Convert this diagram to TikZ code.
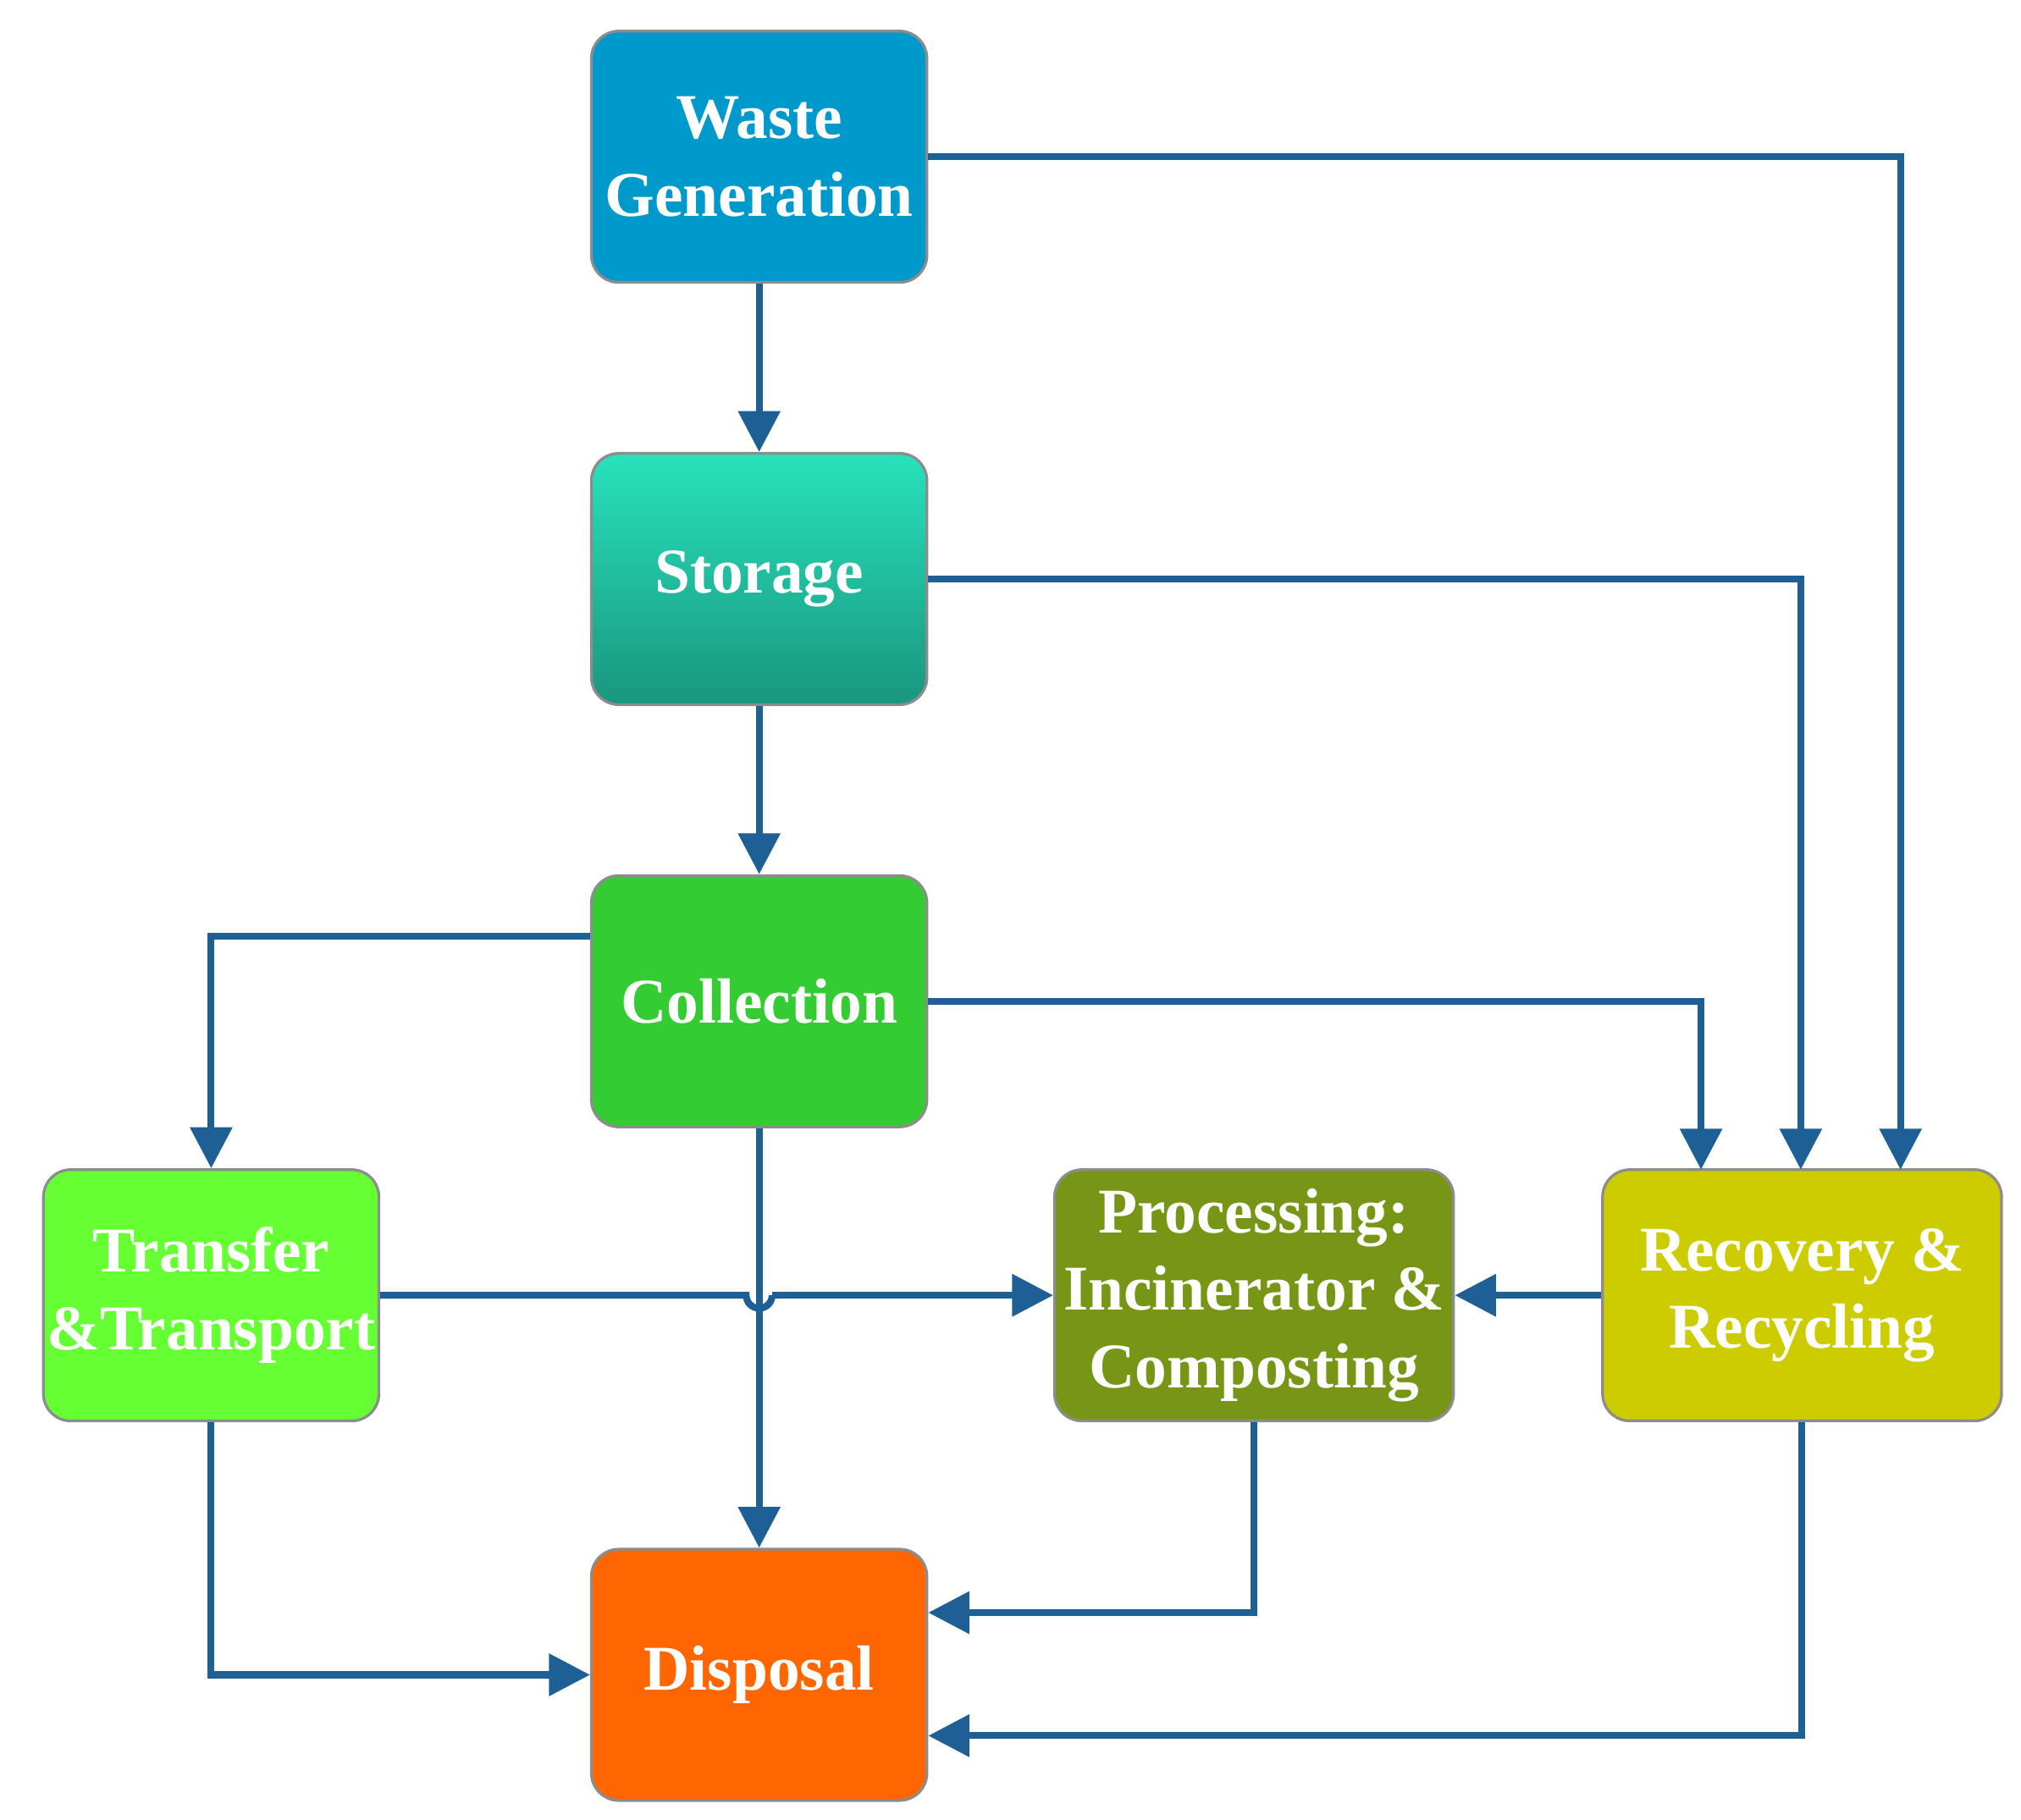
\documentclass[tikz,border=0pt]{standalone}
\usepackage{fontspec}
\setmainfont{Liberation Serif}
\usetikzlibrary{arrows.meta,shadings}
\definecolor{arr}{RGB}{30,95,150}
\definecolor{cwg}{RGB}{0,153,204}
\definecolor{cst1}{RGB}{40,226,188}
\definecolor{cst2}{RGB}{26,150,128}
\definecolor{ccol}{RGB}{51,204,51}
\definecolor{ctr}{RGB}{102,255,51}
\definecolor{cpr}{RGB}{119,150,22}
\definecolor{crr}{RGB}{204,204,0}
\definecolor{cdi}{RGB}{255,102,0}
\begin{document}
\begin{tikzpicture}[x=0.01cm,y=-0.01cm,
  box/.style={draw=black!45,line width=0.6pt,rounded corners=6pt,minimum width=259*0.01cm,minimum height=194*0.01cm,
    text=white,font=\fontsize{14}{17}\selectfont\bfseries,align=center,inner sep=0pt},
  wide/.style={minimum width=308*0.01cm},
  ar/.style={draw=arr,line width=1.5pt,-{Triangle[length=9pt,width=9pt]}},
  ln/.style={draw=arr,line width=1.5pt}]
\useasboundingbox (0,0) rectangle (1560,1405);
\node[box,fill=cwg] (wg) at (586,121) {Waste\\Generation};
\node[box,top color=cst1,bottom color=cst2] (st) at (586,447) {Storage};
\node[box,fill=ccol] (co) at (586,773) {Collection};
\node[box,fill=ctr] (tr) at (163,1000) {Transfer\\\&Transport};
\node[box,wide,fill=cpr] (pr) at (968,1000) {Processing:\\Incinerator \&\\Composting};
\node[box,wide,fill=crr] (rr) at (1391,1000) {Recovery \&\\Recycling};
\node[box,fill=cdi] (di) at (586,1293) {Disposal};
\coordinate (h1) at (576,1000);
\coordinate (h2) at (596,1000);
\draw[ar] (wg) -- (st);
\draw[ar] (st) -- (co);
\draw[ar] (co) -- (di);
\draw[ar] (wg.east |- 0,121) -| (1467,903);
\draw[ar] (st.east) -| (1390,903);
\draw[ar] (co.east) -| (1313,903);
\draw[ar] (co.west |- 0,723) -| (tr.north);
\draw[ln] (tr.east) -- (h1) arc[start angle=180,end angle=0,radius=10];
\draw[ar] (h2) -- (pr.west);
\draw[ar] (rr.west) -- (pr.east);
\draw[ar] (tr.south) |- (di.west);
\draw[ar] (pr.south) |- (di.east |- 0,1245);
\draw[ar] (rr.south) |- (di.east |- 0,1340);
\end{tikzpicture}
\end{document}
